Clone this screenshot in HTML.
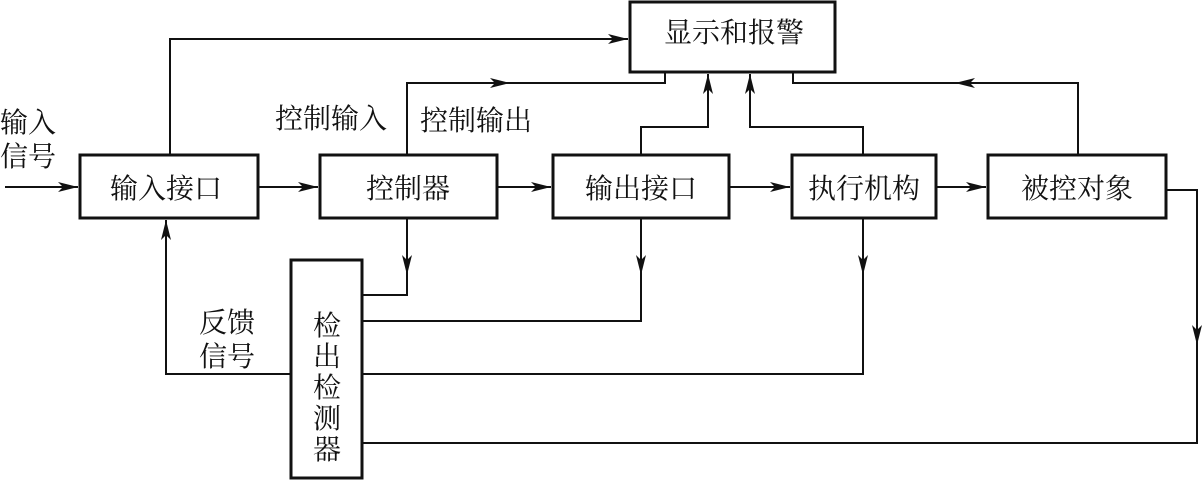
<!DOCTYPE html>
<html><head><meta charset="utf-8"><style>
body{margin:0;background:#fff;}
svg text{font-family:"Liberation Serif","Noto Serif CJK SC",serif;font-size:28px;fill:#111;}
</style></head><body>
<svg width="1202" height="483" viewBox="0 0 1202 483" xmlns="http://www.w3.org/2000/svg">
<defs>
<marker id="a" viewBox="0 0 20 10" refX="20" refY="5" markerWidth="20" markerHeight="10" markerUnits="userSpaceOnUse" orient="auto">
<path d="M0,0 L20,5 L0,10 L5,5 z" fill="#111"/></marker>
</defs>
<g fill="none" stroke="#111" stroke-width="3">
<rect x="80" y="155" width="178" height="63"/>
<rect x="320" y="155" width="177" height="63"/>
<rect x="553" y="155" width="176" height="63"/>
<rect x="792" y="155" width="144" height="63"/>
<rect x="988" y="155" width="178" height="63"/>
<rect x="630" y="2" width="205" height="70"/>
<rect x="291" y="260" width="71" height="218"/>
</g>
<g fill="none" stroke="#111" stroke-width="2">
<line x1="5" y1="187" x2="78" y2="187" marker-end="url(#a)"/>
<line x1="258" y1="187" x2="318" y2="187" marker-end="url(#a)"/>
<line x1="497" y1="187" x2="551" y2="187" marker-end="url(#a)"/>
<line x1="729" y1="187" x2="790" y2="187" marker-end="url(#a)"/>
<line x1="936" y1="187" x2="986" y2="187" marker-end="url(#a)"/>
<polyline points="170,155 170,39 628,39" marker-end="url(#a)"/>
<polyline points="407,155 407,83 510,83"  marker-end="url(#a)"/>
<polyline points="505,83 665,83 665,72"/>
<polyline points="641,155 641,127 708,127 708,74" marker-end="url(#a)"/>
<polyline points="863,155 863,127 750,127 750,74" marker-end="url(#a)"/>
<polyline points="1078,155 1078,83 955,83" marker-end="url(#a)"/>
<polyline points="960,83 793,83 793,72"/>
<polyline points="1166,190 1197,190 1197,345" marker-end="url(#a)"/>
<polyline points="1197,340 1197,443 362,443"/>
<polyline points="407,218 407,275" marker-end="url(#a)"/>
<polyline points="407,270 407,295 362,295"/>
<polyline points="641,218 641,275" marker-end="url(#a)"/>
<polyline points="641,270 641,321 362,321"/>
<polyline points="863,218 863,275" marker-end="url(#a)"/>
<polyline points="863,270 863,374 362,374"/>
<polyline points="291,374 166,374 166,220" marker-end="url(#a)"/>
</g>
<g text-anchor="middle">
<text x="166" y="198">输入接口</text>
<text x="408" y="198">控制器</text>
<text x="641" y="198">输出接口</text>
<text x="864" y="198">执行机构</text>
<text x="1077" y="198">被控对象</text>
<text x="734" y="42">显示和报警</text>
<text x="327" y="335">检</text>
<text x="327" y="366">出</text>
<text x="327" y="397">检</text>
<text x="327" y="428">测</text>
<text x="327" y="459">器</text>
</g>
<text x="0" y="132">输入</text>
<text x="0" y="166">信号</text>
<text x="275" y="128">控制输入</text>
<text x="420" y="130">控制输出</text>
<text x="199" y="332">反馈</text>
<text x="199" y="366">信号</text>
</svg>
</body></html>
